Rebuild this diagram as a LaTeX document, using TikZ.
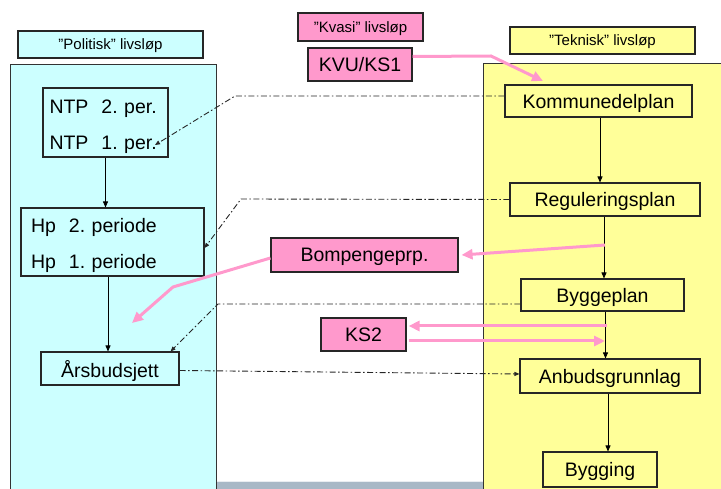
\documentclass[tikz,border=0pt]{standalone}
\usepackage{fontspec}
\setmainfont{Liberation Sans}
\usepackage{xcolor}
\usetikzlibrary{arrows.meta, calc}

\definecolor{polcyan}{HTML}{CCFFFF}
\definecolor{tekyellow}{HTML}{FFFF99}
\definecolor{kvapink}{HTML}{FF99CC}
\definecolor{pinkline}{HTML}{FF99CC}
\definecolor{barblue}{HTML}{A8B8C6}

\begin{document}
\frenchspacing
\begin{tikzpicture}[
    x=1pt, y=-1pt,
    box/.style={draw=black!85, line width=1.1pt, fill=#1, font=\fontsize{19.5}{23}\selectfont, inner sep=0pt, text depth=0pt},
    twoline/.style={box=#1, align=left, text depth=, font=\fontsize{19.5}{36}\selectfont},
    lbl/.style={draw=black!85, line width=1.1pt, fill=#1, font=\fontsize{15}{18}\selectfont, inner sep=0pt, text depth=0pt},
    panel/.style={draw=black!80, line width=1pt, fill=#1},
    flow/.style={-{Triangle[length=6pt, width=5pt]}, line width=0.8pt},
    link/.style={-{Triangle[length=5pt, width=4pt]}, line width=0.9pt, black!85, dash pattern=on 6pt off 2.5pt on 1.5pt off 2.5pt},
    pinkarr/.style={-{Triangle[length=11pt, width=10pt]}, line width=3pt, pinkline},
]
\useasboundingbox (0,0) rectangle (721,489);
\clip (0,0) rectangle (721,489);

% panels
\draw[panel=polcyan] (10,495) -- (10,65) -- (216,65) -- (216,495);
\draw[panel=tekyellow] (483,495) -- (483,64) -- (730,64) -- (730,495);
\fill[barblue] (216.5,481) rectangle (482.5,489);
\draw[white!75!barblue] (216.5,481) -- (482.5,481);

% headings
\node[lbl=polcyan, minimum width=185pt, minimum height=27pt] (polit) at (110.5,44.5) {”Politisk” livsløp};
\node[lbl=kvapink, minimum width=125pt, minimum height=28pt] (kvasi) at (360.5,27) {”Kvasi” livsløp};
\node[lbl=tekyellow, minimum width=185pt, minimum height=27pt] (tekn) at (602.5,40.5) {”Teknisk” livsløp};

% Politisk
\node[twoline=polcyan, text width=112pt, inner xsep=6.5pt, minimum height=69pt] (ntp) at (105.5,122.5)
    {\rule{0pt}{23pt}NTP\ \ 2. per.\\NTP\ \ 1. per.};
\node[twoline=polcyan, text width=163pt, inner xsep=10pt, minimum height=68pt] (hp) at (112.5,242)
    {\rule{0pt}{21pt}Hp\ \ 2. periode\\Hp\ \ 1. periode};
\node[box=polcyan, minimum width=138pt, minimum height=33pt] (aars) at (110,368.5) {Årsbudsjett};

% Kvasi
\node[box=kvapink, minimum width=104pt, minimum height=33pt] (kvu) at (360,64.5) {KVU/KS1};
\node[box=kvapink, minimum width=187pt, minimum height=34pt] (bomp) at (364.5,255) {Bompengeprp.};
\node[box=kvapink, minimum width=85pt, minimum height=33pt] (ks2) at (363.5,334.5) {KS2};

% Teknisk
\node[box=tekyellow, minimum width=187pt, minimum height=32pt] (kdp) at (598.5,101) {Kommunedelplan};
\node[box=tekyellow, minimum width=190pt, minimum height=33pt] (reg) at (605,199.5) {Reguleringsplan};
\node[box=tekyellow, minimum width=163pt, minimum height=32pt] (bygg) at (602.5,295) {Byggeplan};
\node[box=tekyellow, minimum width=180pt, minimum height=34pt] (anb) at (610,376) {Anbudsgrunnlag};
\node[box=tekyellow, minimum width=114pt, minimum height=35pt] (bygging) at (600,469.5) {Bygging};

% corner and end points
\coordinate (c1) at (235,96);
\coordinate (ntpin) at (155,145);
\coordinate (c2) at (241,199);
\coordinate (c3) at (218,304);
\coordinate (k1) at (491,56);
\coordinate (kvutip) at (543,81);
\coordinate (bsrc) at (605,245);
\coordinate (b1) at (173,287);
\coordinate (btip) at (132,323);
\coordinate (ks2src) at (607,326);
\coordinate (ks2tip) at (605,341);

% flow
\draw[flow] (ntp.south) -- (ntp.south |- hp.north);
\draw[flow] ([xshift=-2pt]aars.north |- hp.south) -- ([xshift=-2pt]aars.north);
\draw[flow] ([xshift=1.5pt]kdp.south) -- ([xshift=1.5pt]kdp.south |- reg.north);
\draw[flow] ([xshift=-1pt]reg.south) -- ([xshift=-1pt]reg.south |- bygg.north);
\draw[flow] ([xshift=3pt]bygg.south) -- ([xshift=3pt]bygg.south |- anb.north);
\draw[flow] ([xshift=-2pt]anb.south) -- ([xshift=-2pt]anb.south |- bygging.north);

% links
\draw[link] ([yshift=5pt]kdp.west) -- (c1) -- (ntpin);
\draw[link] (reg.west) -- (c2) -- ([yshift=-6pt]hp.east);
\draw[link] ([yshift=-9pt]bygg.west) -- (c3) -- ([xshift=-9pt]aars.north east);
\draw[link] ([yshift=-2pt]aars.east) -- ([yshift=2pt]anb.west);

% pink
\draw[pinkarr] ([yshift=8pt]kvu.east) -- (k1) -- (kvutip);
\draw[pinkarr] (bsrc) -- ([xshift=3pt]bomp.east);
\draw[pinkarr] ([yshift=-3pt]bomp.west) -- (b1) -- (btip);
\draw[pinkarr] (ks2src) -- ([xshift=2pt, yshift=8.5pt]ks2.east);
\draw[pinkarr] ([xshift=2pt, yshift=-6.5pt]ks2.east) -- (ks2tip);

\end{tikzpicture}
\end{document}
